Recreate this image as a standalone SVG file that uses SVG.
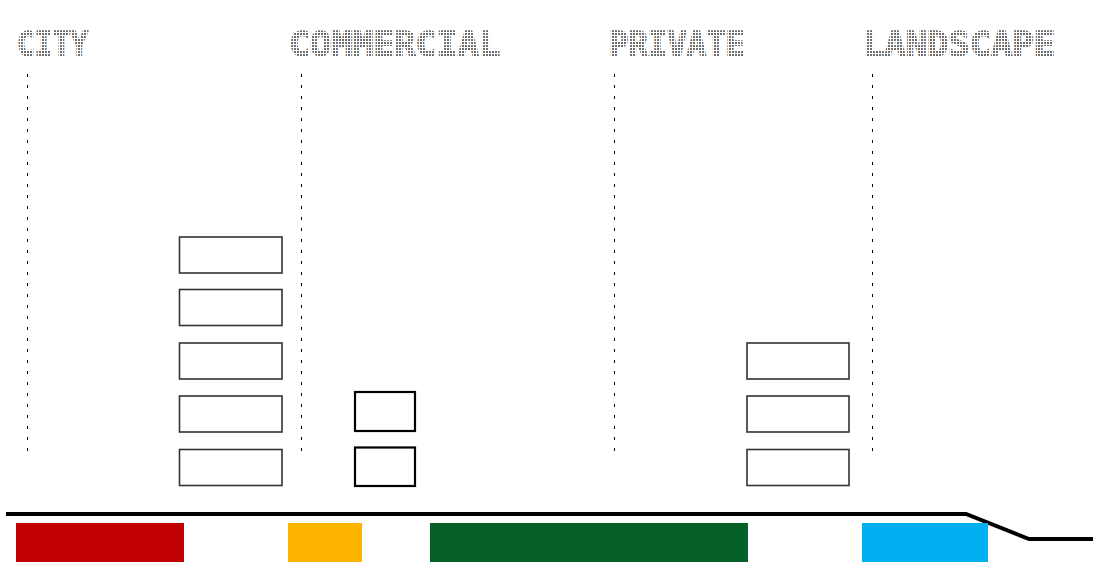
<svg xmlns="http://www.w3.org/2000/svg" width="1112" height="585" viewBox="0 0 1112 585">
  <style>
    .hdr { font-family: "DejaVu Sans Mono", "Liberation Mono", monospace; font-weight: bold; font-size: 33px; fill: url(#dots); stroke: url(#dots); stroke-width: 1.5; }
    .guide { stroke: #000; stroke-width: 1; stroke-dasharray: 3 8; fill: none; }
    .box { fill: #fff; stroke: #333; stroke-width: 1.6; }
    .box2 { fill: #fff; stroke: #000; stroke-width: 2.2; }
    .ground { stroke: #000; stroke-width: 4; fill: none; stroke-linejoin: miter; }
  </style>
  <defs>
    <pattern id="dots" width="3" height="3" patternUnits="userSpaceOnUse">
      <rect x="0" y="0" width="2" height="2" fill="#6e6e6e"/>
    </pattern>
  </defs>
  <rect width="1112" height="585" fill="#fff"/>

  <g id="headers">
    <text class="hdr" x="17" y="56" textLength="71" lengthAdjust="spacingAndGlyphs">CITY</text>
    <text class="hdr" x="289" y="56" textLength="211" lengthAdjust="spacingAndGlyphs">COMMERCIAL</text>
    <text class="hdr" x="609" y="56" textLength="136" lengthAdjust="spacingAndGlyphs">PRIVATE</text>
    <text class="hdr" x="863" y="56" textLength="192" lengthAdjust="spacingAndGlyphs">LANDSCAPE</text>
  </g>

  <g id="connectors">
    <line class="guide" x1="27.5" y1="74" x2="27.5" y2="454"/>
    <line class="guide" x1="301.5" y1="74" x2="301.5" y2="454"/>
    <line class="guide" x1="614.5" y1="74" x2="614.5" y2="454"/>
    <line class="guide" x1="872.5" y1="74" x2="872.5" y2="454"/>
    <polyline class="ground" points="6,514 966,514 1029,539 1093,539"/>
  </g>

  <g id="city-stack">
    <rect class="box" x="179.5" y="237" width="102.5" height="36"/>
    <rect class="box" x="179.5" y="289.5" width="102.5" height="36"/>
    <rect class="box" x="179.5" y="343" width="102.5" height="36"/>
    <rect class="box" x="179.5" y="396" width="102.5" height="36"/>
    <rect class="box" x="179.5" y="449.5" width="102.5" height="36"/>
  </g>

  <g id="commercial-stack">
    <rect class="box2" x="355" y="392" width="60" height="39"/>
    <rect class="box2" x="355" y="447.5" width="60" height="38.5"/>
  </g>

  <g id="private-stack">
    <rect class="box" x="747" y="343" width="102" height="36"/>
    <rect class="box" x="747" y="396" width="102" height="36"/>
    <rect class="box" x="747" y="449.5" width="102" height="36"/>
  </g>

  <g id="bars">
    <rect id="bar-city" x="16" y="523" width="168" height="39" fill="#C00000"/>
    <rect id="bar-commercial" x="288" y="523" width="74" height="39" fill="#FFB400"/>
    <rect id="bar-private" x="430" y="523" width="318" height="39" fill="#056128"/>
    <rect id="bar-landscape" x="862" y="523" width="126" height="39" fill="#00B0F0"/>
  </g>
</svg>
